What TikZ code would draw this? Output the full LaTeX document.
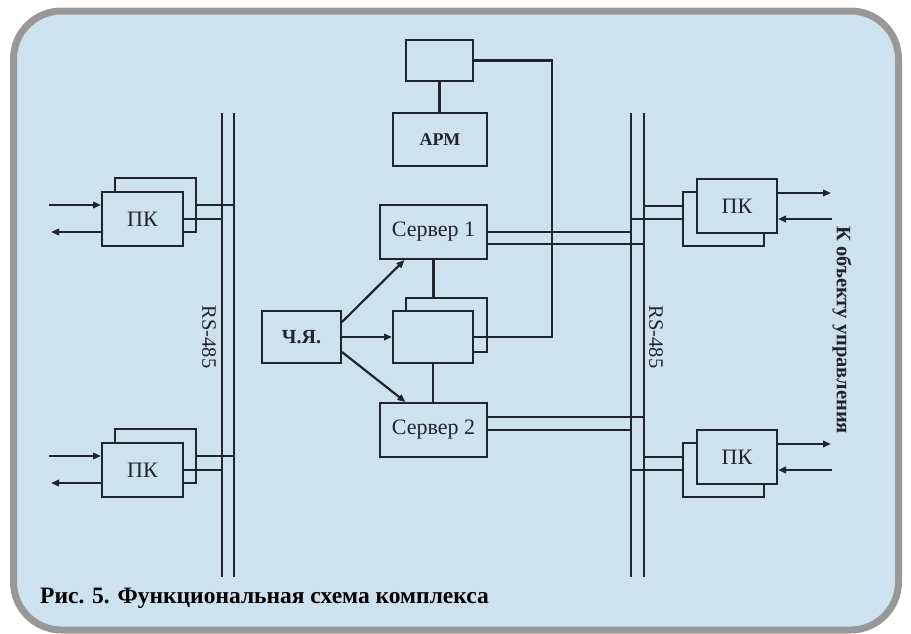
\documentclass[tikz,border=0pt]{standalone}
\usepackage{fontspec}
\setmainfont{Liberation Serif}
\usetikzlibrary{arrows.meta,positioning,calc}
\definecolor{ink}{RGB}{32,36,44}
\definecolor{pane}{RGB}{206,225,238}
\definecolor{rim}{RGB}{152,152,152}
\tikzset{
  blk/.style={draw=ink,line width=2pt,fill=pane,inner sep=0pt,
    font=\fontsize{22}{24}\selectfont,align=center,text=ink},
  ar/.style={-{Triangle[length=8pt,width=6.5pt]},line width=2.2pt,draw=ink},
  wire/.style={line width=2.2pt,draw=ink},
  tag/.style={font=\fontsize{20.5}{22}\selectfont,inner sep=1pt,text=ink},
}
\begin{document}
\begin{tikzpicture}[x=1pt,y=-1pt]
  \useasboundingbox (0,0) rectangle (911,633);
  \draw[line width=7pt,draw=rim,fill=pane,rounded corners=48pt] (13.5,11) rectangle (898.5,630);
  % buses
  \coordinate (bLiT) at (222,113); \coordinate (bLiB) at (222,577);
  \coordinate (bLoT) at (234,113); \coordinate (bLoB) at (234,577);
  \coordinate (bRiT) at (631,113); \coordinate (bRiB) at (631,577);
  \coordinate (bRoT) at (644,113); \coordinate (bRoB) at (644,577);
  \foreach \a/\b in {bLiT/bLiB,bLoT/bLoB,bRiT/bRiB,bRoT/bRoB}
    \draw[wire] (\a) -- (\b);
  \node[tag,rotate=-90] (rsL) at (209,337) {RS-485};
  \node[tag,rotate=-90] (rsR) at (656,337) {RS-485};
  % left PK
  \foreach \n/\y in {pkA/219,pkB/470} {
    \node[blk,minimum width=81,minimum height=54] (\n b) at (155.5,\y-14) {};
    \node[blk,minimum width=81,minimum height=54] (\n) at (142.5,\y) {ПК};
    \draw[wire] (\n b.east) -- (\n b.east -| bLoT);
    \draw[wire] (\n.east) -- (\n.east -| bLiT);
    \draw[ar] ([xshift=-52pt,yshift=14pt]\n.west) -- ([yshift=14pt]\n.west);
    \draw[ar] ([yshift=-13pt]\n.west) -- ([xshift=-50pt,yshift=-13pt]\n.west);
  }
  % right PK
  \foreach \n/\y in {pkC/206,pkD/457} {
    \node[blk,minimum width=81,minimum height=54] (\n b) at (723.5,\y+13) {};
    \node[blk,minimum width=80,minimum height=54] (\n) at (737,\y) {ПК};
    \draw[wire] (\n b.west |- \n.center) -- (bRoT |- \n.center);
    \draw[wire] (\n b.west) -- (bRiT |- \n b.west);
    \draw[ar] ([yshift=13pt]\n.east) -- ([xshift=53pt,yshift=13pt]\n.east);
    \draw[ar] ([xshift=54pt,yshift=-13pt]\n.east) -- ([yshift=-13pt]\n.east);
  }
  \node[font=\bfseries\fontsize{20.5}{22}\selectfont,rotate=-90,text=ink] (obj) at (842,330) {К объекту управления};
  % centre
  \node[blk,minimum width=67,minimum height=41] (top) at (439.5,60.5) {};
  \node[blk,minimum width=94,minimum height=53,font=\bfseries\fontsize{18}{20}\selectfont] (arm) at (440,139.5) {АРМ};
  \node[blk,minimum width=107,minimum height=54] (srvA) at (433.5,232) {Сервер 1};
  \node[blk,minimum width=81,minimum height=54] (midb) at (446.5,325) {};
  \node[blk,minimum width=80,minimum height=52] (mid) at (433,337) {};
  \node[blk,minimum width=107,minimum height=54] (srvB) at (433.5,430) {Сервер 2};
  \node[blk,minimum width=79,minimum height=52,font=\bfseries\fontsize{20}{22}\selectfont] (chya) at (301.5,337) {Ч.Я.};
  \draw[wire] (top.south) -- (top.south |- arm.north);
  \draw[wire] (top.east) -| (552,337) -- (mid.east);
  \draw[wire] (srvA.south) -- (srvA.south |- midb.north);
  \draw[wire] (mid.south) -- (mid.south |- srvB.north);
  \draw[ar] ([yshift=15pt]chya.east) -- ([xshift=-29pt]srvA.south);
  \draw[ar] (chya.east) -- (mid.west);
  \draw[ar] ([yshift=-15pt]chya.east) -- ([xshift=-28pt]srvB.north);
  \draw[wire] (srvA.east) -- (srvA.east -| bRiT);
  \draw[wire] ([yshift=-12pt]srvA.east) -- ([yshift=-12pt]srvA.east -| bRoT);
  \draw[wire] (srvB.east) -- (srvB.east -| bRiT);
  \draw[wire] ([yshift=13pt]srvB.east) -- ([yshift=13pt]srvB.east -| bRoT);
  % caption
  \node[anchor=west,inner sep=0pt,text=black,font=\bfseries\fontsize{23.5}{26}\selectfont] (cap) at (40,598) {Рис. 5. Функциональная схема комплекса};
\end{tikzpicture}
\end{document}
